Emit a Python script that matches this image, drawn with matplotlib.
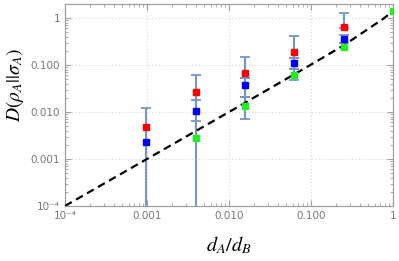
import numpy as np
import matplotlib
matplotlib.use("Agg")
import matplotlib.pyplot as plt
from matplotlib.ticker import LogLocator, FixedLocator, FixedFormatter, NullFormatter

plt.rcParams["mathtext.fontset"] = "stix"

# ratio d_A/d_B
x_all = [1 / 1024, 1 / 256, 1 / 64, 1 / 16, 1 / 4]
x_green = [1 / 256, 1 / 64, 1 / 16, 1 / 4, 1.0]

red_y = [0.0049, 0.027, 0.067, 0.192, 0.65]
red_lo = [1e-6, 1e-6, 0.052, 0.143, 0.60]
red_hi = [0.012, 0.061, 0.148, 0.42, 1.26]

blue_y = [0.0023, 0.0107, 0.037, 0.110, 0.36]
blue_lo = [np.nan, 0.0063, 0.021, 0.082, 0.29]
blue_hi = [np.nan, 0.018, 0.052, 0.143, 0.43]

green_y = [0.0028, 0.0135, 0.061, 0.245, 1.41]
green_lo = [np.nan, 0.0071, 0.047, np.nan, np.nan]
green_hi = [np.nan, 0.021, 0.082, np.nan, np.nan]

# dashed reference curve
curve_x = [1e-4, 1e-3, 1e-2, 0.1, 0.25, 0.5, 0.75, 1.0]
curve_y = [1e-4, 1e-3, 1e-2, 0.102, 0.262, 0.59, 0.95, 1.39]

tick_vals = [1e-4, 1e-3, 1e-2, 1e-1, 1]
tick_labels = ["10\u207b\u2074", "0.001", "0.010", "0.100", "1"]

bar_color = "#7596c8"
frame_color = "#a0a0a0"
label_color = "#777777"


def draw_bars(ax, xs, ys, lo, hi):
    ys = np.array(ys)
    lo = np.array(lo)
    hi = np.array(hi)
    ax.errorbar(
        xs, ys, yerr=[ys - lo, hi - ys], fmt="none",
        ecolor=bar_color, elinewidth=1.5, capsize=3.5, capthick=1.3, zorder=2,
    )


fig = plt.figure(figsize=(3.99, 2.61), dpi=100)
ax = fig.add_axes([0.163, 0.211, 0.822, 0.774])

ax.set_xscale("log")
ax.set_yscale("log")
ax.set_xlim(1e-4, 1)
ax.set_ylim(1e-4, 2)

draw_bars(ax, x_all, red_y, red_lo, red_hi)
draw_bars(ax, x_all, blue_y, blue_lo, blue_hi)
draw_bars(ax, x_green, green_y, green_lo, green_hi)

ax.plot(curve_x, curve_y, color="black", linestyle=(0, (3.5, 2.2)), linewidth=1.6, zorder=3)

ms = 5.0
ax.plot(x_all, red_y, "s", color="#ff0000", markersize=ms, zorder=4)
ax.plot(x_all, blue_y, "s", color="#0000ff", markersize=ms, zorder=4)
ax.plot(x_green, green_y, "s", color="#22ee22", markersize=ms, zorder=4)

for axis in (ax.xaxis, ax.yaxis):
    axis.set_major_locator(FixedLocator(tick_vals))
    axis.set_major_formatter(FixedFormatter(tick_labels))
    axis.set_minor_locator(LogLocator(base=10, subs=np.arange(2, 10)))
    axis.set_minor_formatter(NullFormatter())

ax.grid(True, which="major", color="#d8d8d8", linestyle=(0, (1, 2)), linewidth=0.8)
ax.tick_params(which="both", direction="in", top=True, right=True,
               color=frame_color, labelcolor=label_color, labelsize=7.5)
ax.tick_params(which="major", length=4, width=0.8)
ax.tick_params(which="minor", length=2, width=0.6)
for sp in ax.spines.values():
    sp.set_color(frame_color)
    sp.set_linewidth(0.9)

ax.set_xlabel(r"$d_A/d_B$", fontsize=14.5)
ax.set_ylabel(r"$D(\rho_A||\sigma_A)$", fontsize=14)
ax.xaxis.set_label_coords(0.5, -0.14)
ax.yaxis.set_label_coords(-0.118, 0.6)

fig.savefig("out.png", dpi=100)
